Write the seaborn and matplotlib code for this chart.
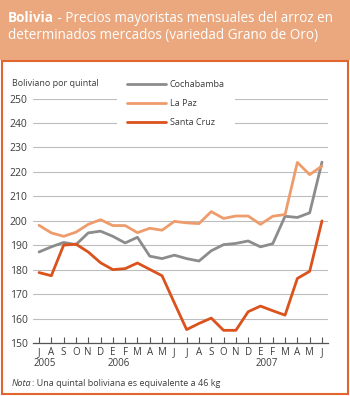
import numpy as np
import pandas as pd
import matplotlib
matplotlib.use('Agg')
import matplotlib.pyplot as plt
import matplotlib.transforms as mtrans
import seaborn as sns
from matplotlib.patches import Rectangle

# ---------------- data ----------------
month_labels = ['J', 'A', 'S', 'O', 'N', 'D', 'E', 'F', 'M', 'A', 'M', 'J',
                'J', 'A', 'S', 'O', 'N', 'D', 'E', 'F', 'M', 'A', 'M', 'J']
month_years = [2005] * 6 + [2006] * 12 + [2007] * 6

cochabamba = [187.3, 189.4, 191.2, 190.3, 195.1, 195.8, 193.7, 191.0, 193.3, 185.6, 184.6, 186.0,
              184.6, 183.6, 187.8, 190.3, 190.8, 191.8, 189.4, 190.7, 201.9, 201.4, 203.3, 224.0]
la_paz = [198.2, 195.1, 193.7, 195.4, 198.6, 200.5, 198.1, 198.1, 195.2, 197.0, 196.2, 199.8,
          199.2, 198.9, 203.8, 201.0, 202.0, 202.0, 198.6, 201.9, 202.6, 223.9, 218.9, 222.4]
santa_cruz = [178.9, 177.6, 190.1, 190.5, 187.3, 182.9, 180.1, 180.5, 182.8, 180.2, 177.6, 166.5,
              155.6, 158.1, 160.3, 155.3, 155.3, 162.9, 165.2, 163.3, 161.5, 176.5, 179.4, 200.0]

series_names = ['Cochabamba', 'La Paz', 'Santa Cruz']
series_values = [cochabamba, la_paz, santa_cruz]
series_colors = ['#8C8C8C', '#EE9C6C', '#DA521C']

title_bold = 'Bolivia'
title_rest1 = ' - Precios mayoristas mensuales del arroz en'
title_line2 = 'determinados mercados (variedad Grano de Oro)'
y_label = 'Boliviano por quintal'
note_italic = 'Nota'
note_rest = ': Una quintal boliviana es equivalente a 46 kg'

rows = []
for name, vals in zip(series_names, series_values):
    for i, v in enumerate(vals):
        rows.append({'idx': i, 'value': v, 'market': name})
df = pd.DataFrame(rows)

# ---------------- style ----------------
sns.set_theme(style='white')
plt.rcParams['font.family'] = ['Open Sans', 'DejaVu Sans']
TXT = '#3C3C3C'
SMALL = 6.5

W, H = 350, 396
fig = plt.figure(figsize=(W / 100, H / 100), dpi=100)
fig.patch.set_facecolor('white')

def fx(px):
    return px / W

def fy(py):
    return 1 - py / H

# title box and panel border
fig.patches.append(Rectangle((0, fy(59.5)), 1, 59.5 / H, transform=fig.transFigure,
                             facecolor='#EBA87E', edgecolor='none', zorder=0))
fig.patches.append(Rectangle((fx(1.5), fy(393.5)), fx(348) - fx(1.5), (393.5 - 60.5) / H,
                             transform=fig.transFigure, facecolor='none',
                             edgecolor='#E2642E', linewidth=1.5, zorder=1))

ax = fig.add_axes([fx(33), fy(343.3), fx(328) - fx(33), (343.3 - 98.5) / H])
ax.set_facecolor('white')

sns.lineplot(data=df, x='idx', y='value', hue='market', hue_order=series_names,
             palette=dict(zip(series_names, series_colors)), linewidth=2.0,
             ax=ax, sort=False, legend=True)

ax.set_xlim(-0.49, len(month_labels) - 0.51)
ax.set_ylim(150, 250)
ax.set_yticks(np.arange(150, 251, 10))
ax.yaxis.grid(True, color='#BDBDBD', linewidth=0.8)
ax.xaxis.grid(False)
ax.set_axisbelow(True)
ax.set_xticks(range(len(month_labels)))
ax.set_xticklabels(month_labels)
ax.set_xlabel('')
ax.set_ylabel('')
for s in ['top', 'right', 'left']:
    ax.spines[s].set_visible(False)
ax.spines['bottom'].set_color('#555555')
ax.spines['bottom'].set_linewidth(0.9)
ax.tick_params(axis='x', direction='in', length=4.5, width=0.8, color='#555555',
               pad=3, labelsize=7, labelcolor=TXT, bottom=True)
ax.tick_params(axis='y', length=0, pad=4, labelsize=7.5, labelcolor=TXT)

# legend
handles, labels = ax.get_legend_handles_labels()
if ax.legend_ is not None:
    ax.legend_.remove()
leg = ax.legend(handles, labels, loc='center left', bbox_to_anchor=(fx(117), fy(103.5)),
                bbox_transform=fig.transFigure, frameon=True, facecolor='white',
                edgecolor='none', framealpha=1, fontsize=SMALL, handlelength=4.3,
                handletextpad=0.45, labelspacing=1.1, borderpad=1.1, borderaxespad=0)
for t in leg.get_texts():
    t.set_color(TXT)

# year labels
ytrans = mtrans.blended_transform_factory(ax.transData, fig.transFigure)
for yr in sorted(set(month_years)):
    first = month_years.index(yr)
    ax.text(first + 0.5, fy(364), str(yr), transform=ytrans,
            ha='center', va='center', fontsize=7, color=TXT)

# y label
fig.text(fx(12), fy(84), y_label, ha='left', va='center', fontsize=SMALL, color=TXT)

# title
fig.canvas.draw()
r = fig.canvas.get_renderer()
TFS = 9.75
tb = fig.text(fx(8), fy(21.5), title_bold, fontweight='bold', color='white',
              fontsize=TFS, va='baseline', ha='left')
bb = tb.get_window_extent(renderer=r)
fig.text(bb.x1 / W, fy(21.5), title_rest1, color='white', fontsize=TFS,
         va='baseline', ha='left')
fig.text(fx(8), fy(38.5), title_line2, color='white', fontsize=TFS,
         va='baseline', ha='left')

# note
tn = fig.text(fx(12), fy(383), note_italic, fontstyle='italic', color=TXT,
              fontsize=SMALL, va='center', ha='left')
bn = tn.get_window_extent(renderer=r)
fig.text(bn.x1 / W, fy(383), note_rest, color=TXT, fontsize=SMALL, va='center', ha='left')

fig.savefig('out.png', dpi=100, facecolor='white')
